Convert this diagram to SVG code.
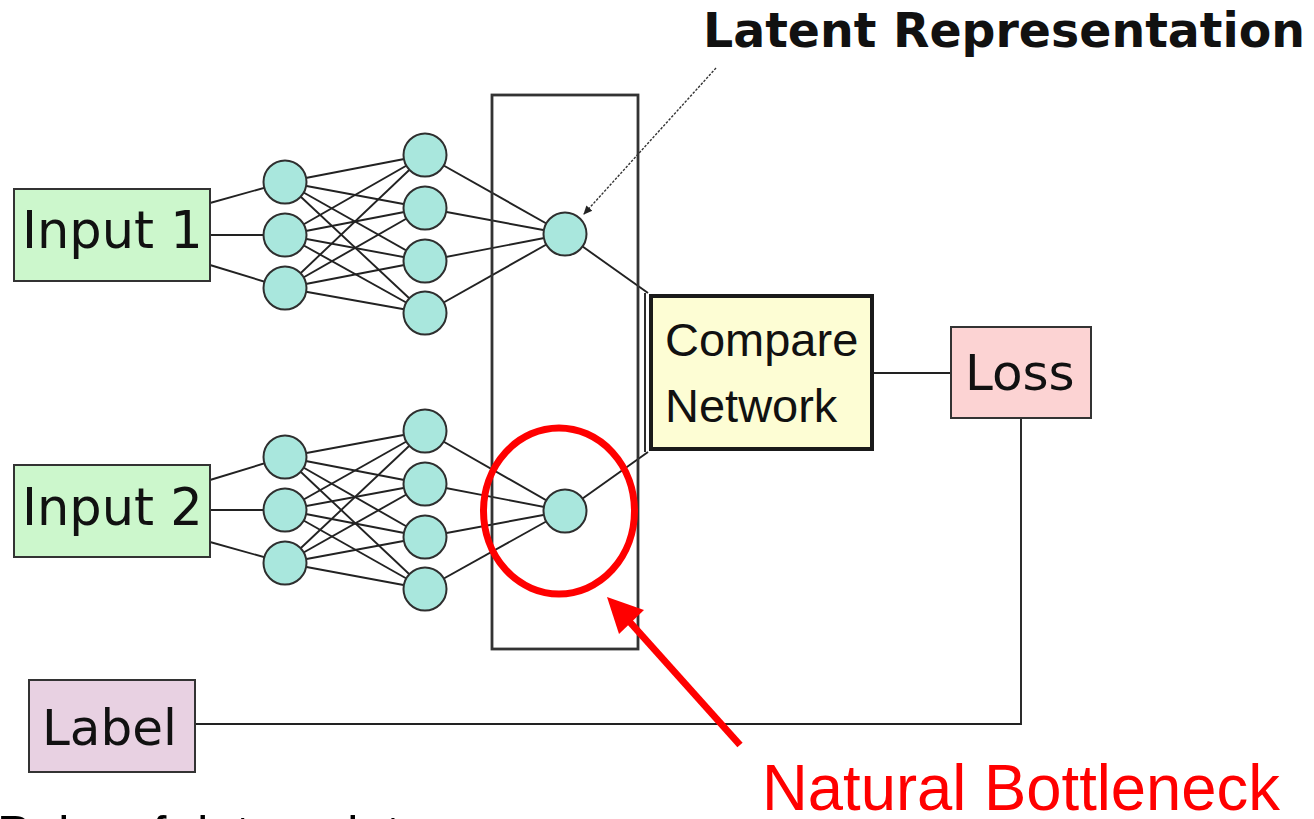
<svg xmlns="http://www.w3.org/2000/svg" width="1314" height="819" viewBox="0 0 1314 819">
  <style>
    .edge { stroke: #222222; stroke-width: 1.9; fill: none; }
    .neuron { fill: #a9e7dd; stroke: #2e2e2e; stroke-width: 2; }
    .box { stroke: #333333; stroke-width: 2; }
    .dv { font-family: "DejaVu Sans", sans-serif; fill: #111111; }
    .ar { font-family: "Liberation Sans", Arial, sans-serif; fill: #111111; }
  </style>
  <defs>
    <marker id="smallHead" markerWidth="10" markerHeight="10" refX="8" refY="5" orient="auto" markerUnits="userSpaceOnUse">
      <path d="M0,1 L9,5 L0,9 Z" fill="#222222"/>
    </marker>
  </defs>

  <rect width="1314" height="819" fill="#ffffff"/>

  <!-- connectors -->
  <g id="connectors">
    <!-- input 1 to first layer -->
    <line class="edge" x1="210" y1="203" x2="285" y2="182"/>
    <line class="edge" x1="210" y1="235" x2="285" y2="235"/>
    <line class="edge" x1="210" y1="265" x2="285" y2="288"/>
    <!-- first layer to second layer (upper branch) -->
    <line class="edge" x1="285" y1="182" x2="425" y2="155"/>
    <line class="edge" x1="285" y1="182" x2="425" y2="208"/>
    <line class="edge" x1="285" y1="182" x2="425" y2="261"/>
    <line class="edge" x1="285" y1="182" x2="425" y2="313"/>
    <line class="edge" x1="285" y1="235" x2="425" y2="155"/>
    <line class="edge" x1="285" y1="235" x2="425" y2="208"/>
    <line class="edge" x1="285" y1="235" x2="425" y2="261"/>
    <line class="edge" x1="285" y1="235" x2="425" y2="313"/>
    <line class="edge" x1="285" y1="288" x2="425" y2="155"/>
    <line class="edge" x1="285" y1="288" x2="425" y2="208"/>
    <line class="edge" x1="285" y1="288" x2="425" y2="261"/>
    <line class="edge" x1="285" y1="288" x2="425" y2="313"/>
    <!-- second layer to latent node (upper) -->
    <line class="edge" x1="425" y1="155" x2="565" y2="234"/>
    <line class="edge" x1="425" y1="208" x2="565" y2="234"/>
    <line class="edge" x1="425" y1="261" x2="565" y2="234"/>
    <line class="edge" x1="425" y1="313" x2="565" y2="234"/>

    <!-- input 2 to first layer -->
    <line class="edge" x1="210" y1="480" x2="285" y2="457"/>
    <line class="edge" x1="210" y1="510" x2="285" y2="510"/>
    <line class="edge" x1="210" y1="542" x2="285" y2="563"/>
    <!-- first layer to second layer (lower branch) -->
    <line class="edge" x1="285" y1="457" x2="425" y2="431"/>
    <line class="edge" x1="285" y1="457" x2="425" y2="484"/>
    <line class="edge" x1="285" y1="457" x2="425" y2="537"/>
    <line class="edge" x1="285" y1="457" x2="425" y2="589"/>
    <line class="edge" x1="285" y1="510" x2="425" y2="431"/>
    <line class="edge" x1="285" y1="510" x2="425" y2="484"/>
    <line class="edge" x1="285" y1="510" x2="425" y2="537"/>
    <line class="edge" x1="285" y1="510" x2="425" y2="589"/>
    <line class="edge" x1="285" y1="563" x2="425" y2="431"/>
    <line class="edge" x1="285" y1="563" x2="425" y2="484"/>
    <line class="edge" x1="285" y1="563" x2="425" y2="537"/>
    <line class="edge" x1="285" y1="563" x2="425" y2="589"/>
    <!-- second layer to latent node (lower) -->
    <line class="edge" x1="425" y1="431" x2="565" y2="511"/>
    <line class="edge" x1="425" y1="484" x2="565" y2="511"/>
    <line class="edge" x1="425" y1="537" x2="565" y2="511"/>
    <line class="edge" x1="425" y1="589" x2="565" y2="511"/>

    <!-- latent nodes into the compare network -->
    <line class="edge" x1="565" y1="234" x2="648" y2="293"/>
    <line class="edge" x1="565" y1="511" x2="648" y2="452"/>
    <line class="edge" x1="645" y1="293" x2="645" y2="452"/>

    <!-- compare network to loss, loss to label -->
    <line class="edge" x1="873" y1="373" x2="951" y2="373"/>
    <polyline class="edge" points="1021,418 1021,724 195,724"/>

    <!-- annotation pointer for the latent representation -->
    <line x1="716" y1="68" x2="584" y2="214" stroke="#333333" stroke-width="1.4" stroke-dasharray="2.5 1.5" marker-end="url(#smallHead)"/>
  </g>

  <!-- latent bottleneck frame -->
  <g id="latent-frame">
    <rect x="492" y="95" width="146" height="554" fill="none" stroke="#333333" stroke-width="2.8"/>
  </g>

  <!-- upper encoder -->
  <g id="encoder-1">
    <circle class="neuron" cx="285" cy="182" r="21.5"/>
    <circle class="neuron" cx="285" cy="235" r="21.5"/>
    <circle class="neuron" cx="285" cy="288" r="21.5"/>
    <circle class="neuron" cx="425" cy="155" r="21.5"/>
    <circle class="neuron" cx="425" cy="208" r="21.5"/>
    <circle class="neuron" cx="425" cy="261" r="21.5"/>
    <circle class="neuron" cx="425" cy="313" r="21.5"/>
  </g>
  <g id="latent-1">
    <circle class="neuron" cx="565" cy="234" r="21.5"/>
  </g>

  <!-- lower encoder -->
  <g id="encoder-2">
    <circle class="neuron" cx="285" cy="457" r="21.5"/>
    <circle class="neuron" cx="285" cy="510" r="21.5"/>
    <circle class="neuron" cx="285" cy="563" r="21.5"/>
    <circle class="neuron" cx="425" cy="431" r="21.5"/>
    <circle class="neuron" cx="425" cy="484" r="21.5"/>
    <circle class="neuron" cx="425" cy="537" r="21.5"/>
    <circle class="neuron" cx="425" cy="589" r="21.5"/>
  </g>
  <g id="latent-2">
    <circle class="neuron" cx="565" cy="511" r="21.5"/>
  </g>

  <g id="input-1">
    <rect class="box" x="14" y="189" width="196" height="92" fill="#ccf7cc"/>
    <text class="dv" x="22" y="248" font-size="51">Input 1</text>
  </g>

  <g id="input-2">
    <rect class="box" x="14" y="465" width="196" height="92" fill="#ccf7cc"/>
    <text class="dv" x="22" y="525" font-size="51">Input 2</text>
  </g>

  <g id="compare-network">
    <rect x="651" y="296" width="221" height="153" fill="#fdfdd4" stroke="#1a1a1a" stroke-width="4"/>
    <text class="ar" x="665" y="356" font-size="47">Compare</text>
    <text class="ar" x="665" y="422" font-size="47">Network</text>
  </g>

  <g id="loss">
    <rect class="box" x="951" y="327" width="140" height="91" fill="#fcd3d3"/>
    <text class="dv" x="965" y="390" font-size="50">Loss</text>
  </g>

  <g id="label">
    <rect class="box" x="29" y="680" width="166" height="92" fill="#e8d1e2"/>
    <text class="dv" x="42" y="745" font-size="50">Label</text>
  </g>

  <g id="latent-caption">
    <text x="703" y="47" font-family="DejaVu Sans, sans-serif" font-weight="bold" font-size="48" fill="#111111" textLength="602" lengthAdjust="spacingAndGlyphs">Latent Representation</text>
  </g>

  <!-- bottleneck highlight -->
  <g id="bottleneck-callout">
    <ellipse cx="559" cy="511" rx="75.5" ry="83" fill="none" stroke="#ff0000" stroke-width="7"/>
    <line x1="740" y1="745" x2="628" y2="620" stroke="#ff0000" stroke-width="7"/>
    <polygon points="607,597 644,610 619,634" fill="#ff0000"/>
    <text x="762" y="810" font-family="Liberation Sans, Arial, sans-serif" font-size="64" fill="#ff0000" textLength="518" lengthAdjust="spacingAndGlyphs">Natural Bottleneck</text>
  </g>

  <g id="footer">
    <text x="-3" y="851" font-family="Liberation Sans, Arial, sans-serif" font-size="50" fill="#000000">Pairs of data points</text>
  </g>
</svg>
